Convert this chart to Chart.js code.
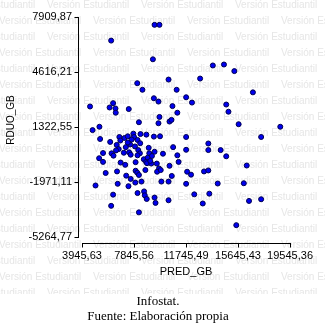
<!DOCTYPE html>
<html lang="es">
<head>
<meta charset="UTF-8">
<title>RDUO_GB vs PRED_GB</title>
<script src="https://cdn.jsdelivr.net/npm/chart.js"></script>
<style>
  html, body { margin: 0; padding: 0; background: #fff; }
</style>
</head>
<body>
<canvas id="scatter" width="325" height="325"></canvas>
<script>
// predicted values (x) and residuals (y), one entry per observation
const predGb = [
  9386, 9752, 6131, 9261, 8088, 10434, 12802, 8477, 11042, 9335,
  9679, 11753, 12193, 4548, 6278, 6014, 6454, 6476, 7451, 10727,
  11094, 9752, 8213, 9679, 10507, 10654, 4739, 5252, 13755, 14590,
  15367, 16760, 14759, 14927, 15690, 18812, 17376, 13417, 13417, 14341,
  14759, 16298, 13095, 13417, 14121, 16078, 13491, 13000, 16467, 17376,
  15514, 5303, 6058, 6747, 6820, 7136, 7377, 7795, 7847, 7671,
  7553, 8330, 8770, 9335, 9796, 11753, 8110, 8308, 7377, 6549,
  6696, 6498, 6161, 6307, 5523, 5230, 5523, 7231, 7084, 7480,
  7597, 7920, 8162, 8286, 8110, 8946, 8990, 9386, 8580, 8873,
  9188, 10016, 10779, 11094, 11753, 11189, 6842, 7187, 7964, 8748,
  8821, 9137, 9063, 9554, 9723, 9576, 9848, 10507, 8697, 7964,
  8088, 8213, 5721, 6571, 7260, 7597, 7942, 8404, 10676, 9899,
  10434, 11827, 12120, 11753, 4959, 6622, 7429, 6278, 8110, 8602,
  8653, 8799, 9386, 9459, 10434, 12362, 6131, 8213
];
const rduoGb = [
  7416, 7416, 6475, 5358, 3929, 4147, 4206, 3535, 3535, 3030,
  2830, 3088, 2771, 2536, 2736, 2477, 2418, 2165, 2383, 2559,
  2165, 1912, 1595, 1536, 1636, 1736, 1124, 1324, 4988, 5046,
  4652, 3382, 2653, 2224, 1477, 1324, 713, 325, -69, -69,
  -440, -992, -1345, -1286, -2068, -2051, -2674, -3262, -3109, -3009,
  -4556, 595, 419, 713, 501, 654, 754, 913, 713, 560,
  266, 889, 854, 736, 754, 713, 536, 342, 384, 242,
  -10, -87, -263, -404, -246, -557, -775, 107, -228, -204,
  -346, 148, -69, -263, -381, 66, -263, -169, -616, -522,
  -422, -287, 107, -381, -52, -775, -816, -951, -792, -775,
  -851, -875, -716, -875, -1169, -1363, -1263, -1010, -1263, -1304,
  -1422, -1557, -1439, -1345, -1598, -1792, -2010, -1951, -1615, -1951,
  -1951, -1363, -1539, -2086, -2186, -2086, -2227, -2733, -2639, -2539,
  -2774, -2992, -2909, -3227, -3068, -2715, -3403, -3791
];
const xTicks = [3945.63, 7845.56, 11745.49, 15645.43, 19545.36];
const yTicks = [-5264.77, -1971.11, 1322.55, 4616.21, 7909.87];

const fmt = v => v.toFixed(2).replace('.', ',');
const sans = '"Liberation Sans", Arial, sans-serif';

// background watermark, detached axes, axis names and source note
const decor = {
  id: 'decor',
  beforeDraw(chart) {
    const ctx = chart.ctx;
    ctx.save();
    ctx.fillStyle = '#fff';
    ctx.fillRect(0, 0, chart.width, chart.height);
    ctx.beginPath();
    ctx.rect(0, 0, chart.width, 294);
    ctx.clip();
    ctx.font = '10px ' + sans;
    ctx.fillStyle = '#e6e6e6';
    ctx.textBaseline = 'middle';
    for (let k = 0; k < 19; k++) {
      const y = 5 + 16 * k;
      const start = k % 2 ? -1 : -47;
      for (let x = start; x < chart.width; x += 94) {
        ctx.fillText('Versión Estudiantil', x, y);
      }
    }
    ctx.restore();
  },
  beforeDatasetsDraw(chart) {
    const ctx = chart.ctx;
    const xs = chart.scales.x, ys = chart.scales.y;
    const area = chart.chartArea;
    ctx.save();
    ctx.strokeStyle = '#000';
    ctx.lineWidth = 1;
    ctx.beginPath();
    // y axis, shifted left of the plotting area
    const ax = Math.round(area.left - 4) + 0.5;
    ctx.moveTo(ax, Math.round(ys.getPixelForValue(yTicks[4])));
    ctx.lineTo(ax, Math.round(ys.getPixelForValue(yTicks[0])) + 1);
    yTicks.forEach(v => {
      const p = Math.round(ys.getPixelForValue(v)) + 0.5;
      ctx.moveTo(ax - 4, p);
      ctx.lineTo(ax, p);
    });
    // x axis, shifted below the plotting area
    const ay = Math.round(area.bottom + 6) + 0.5;
    ctx.moveTo(Math.round(xs.getPixelForValue(xTicks[0])), ay);
    ctx.lineTo(Math.round(xs.getPixelForValue(xTicks[4])) + 1, ay);
    xTicks.forEach(v => {
      const p = Math.round(xs.getPixelForValue(v)) + 0.5;
      ctx.moveTo(p, ay);
      ctx.lineTo(p, ay + 4);
    });
    ctx.stroke();

    ctx.fillStyle = '#000';
    ctx.textAlign = 'center';
    ctx.textBaseline = 'middle';
    ctx.font = '11px ' + sans;
    ctx.fillText('PRED_GB', (area.left + area.right) / 2, 271.5);
    ctx.save();
    ctx.translate(11, 120);
    ctx.rotate(-Math.PI / 2);
    ctx.font = '10px ' + sans;
    ctx.fillText('RDUO_GB', 0, 0);
    ctx.restore();

    ctx.font = '13px "Liberation Serif", "Times New Roman", serif';
    ctx.fillText('Infostat.', 158, 301.5);
    ctx.fillText('Fuente: Elaboración propia', 158, 316.5);
    ctx.restore();
  }
};

new Chart(document.getElementById('scatter'), {
  type: 'scatter',
  data: {
    datasets: [{
      label: 'RDUO_GB',
      data: predGb.map((x, i) => ({ x: x, y: rduoGb[i] })),
      backgroundColor: '#0000f0',
      borderColor: '#000050',
      borderWidth: 1,
      pointRadius: 2.5
    }]
  },
  options: {
    responsive: false,
    animation: false,
    layout: { padding: { left: 0, right: 30, top: 13, bottom: 0 } },
    plugins: {
      legend: { display: false },
      tooltip: { enabled: false }
    },
    scales: {
      x: {
        type: 'linear',
        min: xTicks[0],
        max: xTicks[xTicks.length - 1],
        afterBuildTicks: s => { s.ticks = xTicks.map(v => ({ value: v })); },
        afterFit: s => { s.height = 88; },
        grid: { display: false, drawTicks: false },
        border: { display: false },
        ticks: {
          autoSkip: false,
          maxRotation: 0,
          padding: 12,
          color: '#000',
          font: { family: sans, size: 11 },
          callback: v => fmt(v)
        }
      },
      y: {
        type: 'linear',
        min: yTicks[0],
        max: yTicks[yTicks.length - 1],
        afterBuildTicks: s => { s.ticks = yTicks.map(v => ({ value: v })); },
        afterFit: s => { s.width = 82; },
        grid: { display: false, drawTicks: false },
        border: { display: false },
        ticks: {
          autoSkip: false,
          padding: 10,
          color: '#000',
          font: { family: sans, size: 11 },
          callback: v => fmt(v)
        }
      }
    }
  },
  plugins: [decor]
});
</script>
</body>
</html>
